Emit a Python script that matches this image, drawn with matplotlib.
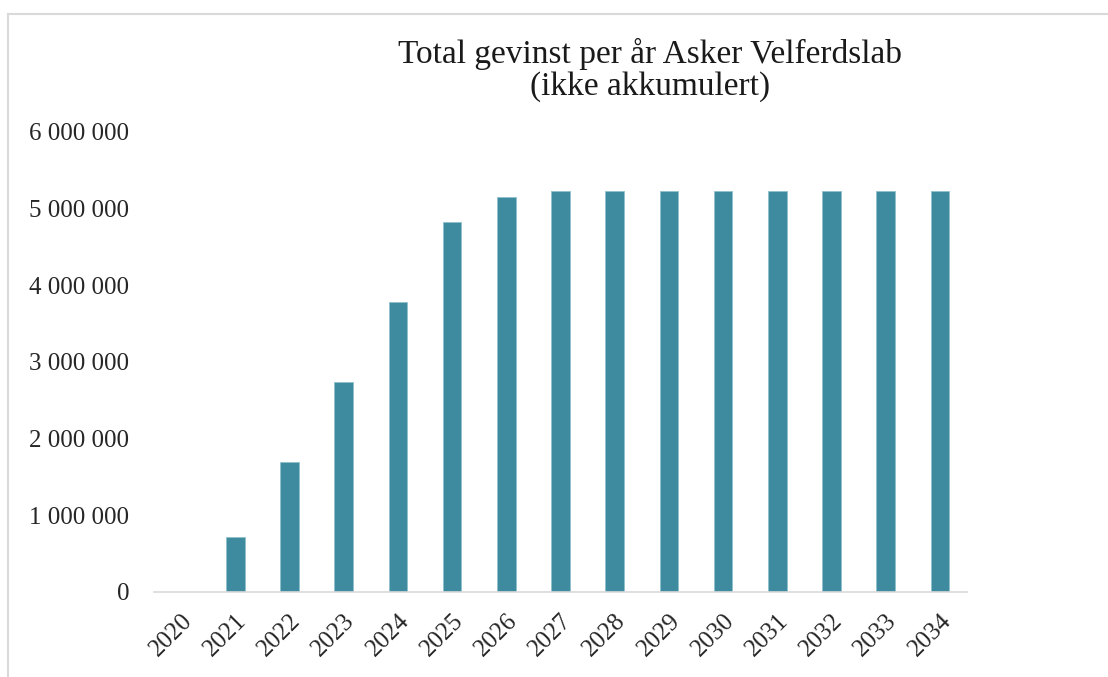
import matplotlib.pyplot as plt
from matplotlib.lines import Line2D
from matplotlib.ticker import FuncFormatter

years = [str(y) for y in range(2020, 2035)]
gevinst = [0, 720000, 1700000, 2740000, 3780000, 4830000, 5150000,
           5230000, 5230000, 5230000, 5230000, 5230000, 5230000, 5230000, 5230000]

bar_color = "#3E8A9E"
serif = ["Liberation Serif", "DejaVu Serif"]

fig = plt.figure(figsize=(11.08, 6.77), dpi=100)
ax = fig.add_axes([154 / 1108, 1 - 592 / 677, (967 - 154) / 1108, (592 - 132) / 677])

x = range(len(years))
ax.bar(x, gevinst, width=0.34, color=bar_color, edgecolor="#8FC1CC", linewidth=0.6)

ax.set_xlim(-0.5, len(years) - 0.5)
ax.set_ylim(0, 6000000)
ax.set_yticks(range(0, 6000001, 1000000))
ax.yaxis.set_major_formatter(FuncFormatter(lambda v, p: f"{int(v):,}".replace(",", " ")))
ax.set_xticks(list(x))
ax.set_xticklabels(years, rotation=45, ha="right", rotation_mode="anchor")

for s in ["top", "right", "left"]:
    ax.spines[s].set_visible(False)
ax.spines["bottom"].set_color("#D9D9D9")
ax.spines["bottom"].set_linewidth(1.2)
ax.tick_params(axis="both", length=0, colors="#262626", labelsize=18)
ax.tick_params(axis="y", pad=18)
ax.tick_params(axis="x", pad=13)
for lab in ax.get_xticklabels() + ax.get_yticklabels():
    lab.set_family(serif)

fig.text(650 / 1108, 1 - 70 / 677, "Total gevinst per år Asker Velferdslab\n(ikke akkumulert)",
         ha="center", va="center", fontsize=24, family=serif, color="#1a1a1a",
         linespacing=1.05)

# frame lines of the chart area
fig.add_artist(Line2D([8 / 1108, 1], [1 - 14 / 677, 1 - 14 / 677], color="#D9D9D9", lw=1.5,
                      transform=fig.transFigure))
fig.add_artist(Line2D([8 / 1108, 8 / 1108], [0, 1 - 14 / 677], color="#D9D9D9", lw=1.5,
                      transform=fig.transFigure))

fig.savefig("out.png", dpi=100, facecolor="white")
